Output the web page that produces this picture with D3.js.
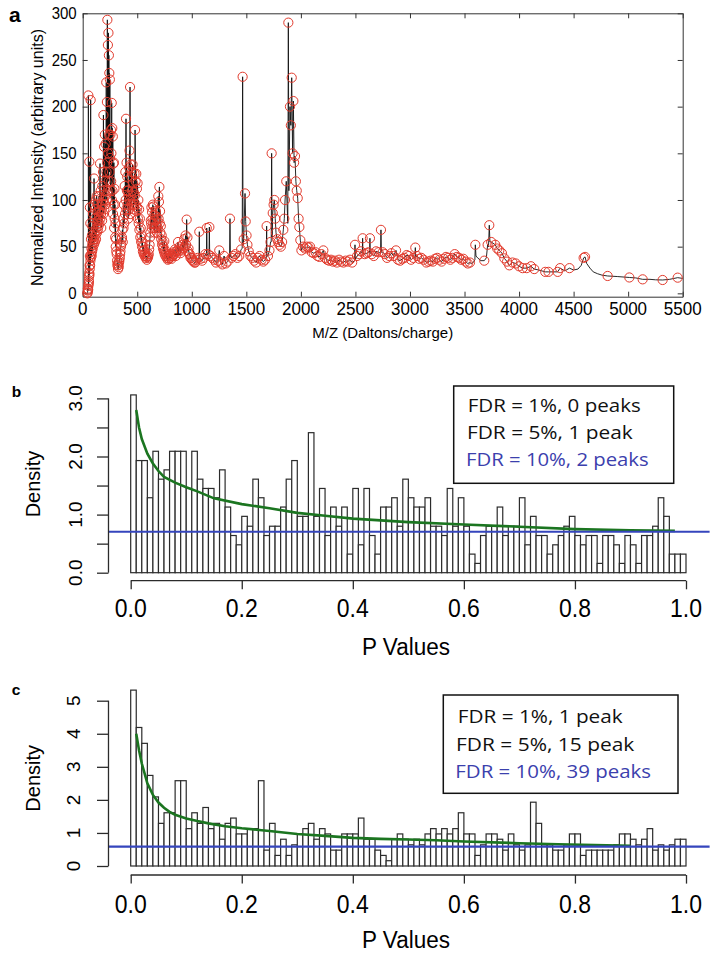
<!DOCTYPE html>
<html><head><meta charset="utf-8">
<script src="https://cdn.jsdelivr.net/npm/d3@7"></script>
<style>body{margin:0;background:#fff}svg{display:block}</style>
</head><body>
<svg id="chart" width="716" height="956"></svg>
<script>
// ---------------- DATA ----------------
// Panel a : mass spectrum
const mzTicks = [0,500,1000,1500,2000,2500,3000,3500,4000,4500,5000,5500];
const intensityTicks = [0,50,100,150,200,250,300];
// detected peaks (red circles): [m/z, intensity]
const peaks = [
[43,0],[48,3],[52,8],[56,14],[60,22],[63,30],[66,40],[52,212],[61,141],[66,92],[73,207],[70,75],[76,58],[80,48],[85,62],[90,72],[95,85],[100,95],[104,123],[110,80],[115,90],[120,100],[128,104],[135,96],[142,88],[150,104],[159,139],[165,110],[172,96],[180,115],[186,130],[190,191],[196,157],[203,170],[210,160],[216,226],[222,205],[226,293],[231,266],[236,279],[240,255],[244,236],[249,229],[254,170],[259,175],[263,150],[266,204],[271,177],[276,168],[281,139],[286,140],[291,112],[296,95],[301,75],[306,58],[312,42],[318,30],[324,26],[330,28],[336,35],[343,42],[350,50],[357,58],[364,68],[371,80],[378,95],[385,115],[391,130],[397,187],[402,140],[408,125],[414,110],[420,105],[425,135],[429,153],[434,221],[439,138],[445,125],[451,130],[457,138],[463,118],[469,108],[475,128],[480,175],[485,120],[491,128],[497,112],[503,118],[510,100],[517,90],[524,80],[532,70],[540,62],[548,55],[556,50],[565,46],[574,43],[583,40],[592,39],[601,40],[609,47],[617,60],[624,78],[630,92],[636,87],[643,95],[650,93],[657,84],[664,78],[671,88],[678,82],[686,76],[693,104],[699,98],[703,114],[709,88],[716,72],[724,62],[732,55],[740,50],[748,56],[756,46],[765,43],[775,40],[785,38],[796,40],[808,42],[820,40],[833,44],[846,47],[860,45],[874,55],[888,50],[902,48],[916,52],[930,58],[943,62],[953,79],[960,60],[970,48],[982,42],[995,38],[1010,35],[1025,33],[1040,36],[1055,38],[1069,66],[1080,37],[1095,35],[1110,38],[1125,42],[1137,70],[1150,42],[1161,71],[1172,40],[1188,38],[1205,36],[1222,33],[1240,35],[1252,46],[1265,33],[1280,31],[1296,40],[1312,32],[1328,34],[1350,80],[1365,38],[1382,40],[1400,42],[1418,38],[1435,40],[1452,47],[1466,232],[1476,58],[1488,107],[1494,77],[1502,62],[1510,52],[1522,45],[1538,40],[1555,38],[1572,35],[1590,33],[1606,38],[1622,40],[1640,36],[1656,34],[1672,36],[1686,72],[1698,40],[1712,46],[1722,55],[1732,150],[1742,86],[1750,95],[1757,100],[1765,80],[1772,65],[1782,58],[1792,55],[1804,52],[1816,50],[1828,55],[1839,68],[1848,80],[1855,100],[1866,120],[1885,290],[1900,200],[1908,180],[1916,231],[1924,150],[1931,206],[1938,140],[1946,147],[1954,120],[1962,110],[1971,102],[1979,80],[1986,71],[1995,57],[2005,46],[2020,50],[2038,48],[2055,50],[2070,49],[2084,50],[2100,44],[2118,43],[2135,44],[2152,40],[2170,39],[2188,42],[2206,46],[2222,38],[2240,36],[2258,35],[2276,36],[2294,34],[2312,35],[2330,33],[2350,36],[2370,34],[2390,33],[2410,35],[2430,34],[2450,36],[2470,33],[2496,52],[2515,40],[2535,42],[2550,45],[2566,59],[2585,42],[2605,43],[2620,44],[2633,59],[2650,42],[2668,40],[2690,45],[2712,44],[2734,68],[2750,44],[2770,42],[2790,38],[2810,40],[2830,43],[2850,40],[2872,46],[2890,36],[2910,35],[2930,37],[2950,38],[2970,41],[2990,40],[3010,36],[3030,38],[3049,49],[3065,40],[3085,37],[3105,38],[3125,36],[3150,33],[3170,34],[3190,35],[3210,34],[3230,37],[3250,38],[3270,36],[3290,34],[3310,37],[3330,39],[3350,38],[3370,36],[3390,38],[3410,42],[3430,39],[3450,38],[3470,36],[3490,37],[3510,34],[3530,32],[3550,33],[3599,52],[3681,35],[3712,52],[3727,73],[3745,55],[3782,52],[3800,48],[3819,46],[3843,43],[3865,37.5],[3890,34],[3911,30],[3940,33],[3970,32],[4000,29],[4033,27],[4070,27],[4109,29],[4139,26],[4240,23],[4270,23],[4354,23],[4376,27],[4462,27],[4592,38],[4605,39],[4812,18.6],[5011,17],[5133,15],[5316,14.3],[5454,16.8],
// dense low-mass cluster
[45,1],[47,5],[50,4],[54,10],[57,12],[58,18],[62,20],[64,26],[68,30],[71,35],[74,38],[78,42],[82,40],[86,45],[88,52],[92,48],[96,55],[98,60],[102,52],[106,58],[108,65],[112,55],[117,62],[122,58],[125,70],[130,65],[133,75],[138,68],[140,78],[145,72],[148,82],[153,75],[156,88],[162,80],[168,85],[170,70],[175,90],[178,78],[183,95],[188,85],[193,100],[198,90],[200,110],[205,95],[208,120],[213,105],[218,130],[220,100],[224,140],[228,110],[233,150],[238,120],[242,170],[246,130],[251,145],[256,110],[261,120],[268,100],[273,110],[278,85],[283,95],[288,70],[293,80],[298,60],[303,50],[308,45],[315,35],[321,32],[327,30],[333,33],[340,38],[346,45],[353,52],[360,60],[367,55],[374,70],[381,75],[388,85],[394,100],[400,90],[405,110],[411,95],[417,80],[423,90],[431,100],[437,85],[442,105],[448,95],[454,110],[460,100],[466,90],[472,95],[478,105],[488,95],[494,88],[500,92],[506,80],[513,75],[520,68],[528,60],[536,55],[544,50],[552,45],[560,42],[569,40],[578,38],[588,36],[597,38],[605,42],[613,52],[620,65],[627,75],[633,70],[640,80],[646,75],[653,70],[660,65],[668,70],[675,72],[682,65],[689,70],[696,80],[706,75],[712,65],[720,58],[728,52],[736,48],[744,45],[752,42],[760,40],[770,38],[780,36],[790,37],[802,38],[814,37],[826,40],[840,42],[853,40],[867,46],[881,45],[895,43],[909,46],[923,48],[936,50],[948,52],[965,45],[976,42],[988,38],[1002,36],[1017,34],[1032,33]
];
// spectrum points between peaks (line only): [m/z, intensity]
const spectrumBase = [
[950,55],[956,56],[1066,37],[1072,37],[1134,40],[1140,41],[1158,42],[1164,42],[1346,38],[1354,40],[1462,48],[1470,52],[1683,38],[1689,40],[1728,55],[1736,60],[1880,75],[1890,110],[2492,35],[2500,36],[2563,43],[2569,43],[2630,44],[2636,43],[2730,43],[2738,44],[3046,38],[3052,39],
[3560,32],[3580,33],[3595,36],[3605,40],[3620,38],[3650,35],[3700,38],[3720,50],[3733,55],[4180,25],[4210,24],[4310,23],[4420,24],[4500,25],[4540,26],[4570,30],[4620,32],[4650,27],[4680,23],[4720,21],[4760,19.5],[4900,18],[5070,16.5],[5200,15],[5250,14.5],[5380,15],[5500,16]
];

// Panel b : p-value histogram (density per 0.01 bin)
const pTicks = [0,0.2,0.4,0.6,0.8,1.0];
const densityB = [3.06,1.93,1.93,1.29,2.09,1.61,1.77,2.09,2.09,2.09,1.45,2.09,1.61,1.45,1.45,1.29,1.77,1.13,0.64,0.48,
0.97,0.80,1.61,1.29,0.64,0.80,0.80,1.13,1.61,1.93,0.97,0.97,2.41,0.97,1.45,0.64,1.13,0.80,1.13,0.32,
1.45,0.48,1.45,0.64,0.32,1.13,1.13,1.29,0.80,1.61,1.29,1.13,1.13,1.29,0.80,0.80,0.64,1.45,0.80,1.29,
0.80,0.32,0.16,0.64,0.80,0.80,1.13,0.64,0.80,0.80,1.29,0.48,0.97,0.64,0.64,0.32,0.48,0.64,0.80,0.97,
0.64,0.48,0.64,0.64,0.16,0.64,0.64,0.48,0.16,0.64,0.48,0.16,0.64,0.64,0.80,1.29,0.97,0.32,0.32,0.32];
const densityTicksB = [0,0.5,1,1.5,2,2.5,3];
const densityLabelsB = [0,1,2,3];
const fitPB = [0.01,0.015,0.02,0.03,0.04,0.05,0.06,0.08,0.1,0.12,0.15,0.2,0.25,0.3,0.35,0.4,0.5,0.6,0.7,0.8,0.9,0.98];
const fitDB = [2.8,2.5,2.3,2.05,1.88,1.75,1.65,1.55,1.47,1.4,1.28,1.18,1.11,1.03,0.98,0.93,0.87,0.83,0.79,0.75,0.73,0.72];
const fdrLevelB = 0.705;
const legendB = ["FDR = 1%, 0 peaks","FDR = 5%, 1 peak","FDR = 10%, 2 peaks"];

// Panel c
const densityC = [5.32,4.19,3.71,2.74,2.09,1.29,1.61,1.61,2.58,2.58,1.13,1.61,1.29,1.77,1.13,1.29,0.81,1.29,1.45,0.97,
0.97,1.13,1.13,2.58,0.48,1.29,0.32,0.81,0.32,0.64,0.97,1.13,1.29,0.81,1.13,0.97,0.48,0.48,0.97,0.97,
0.97,1.45,0.81,0.81,0.48,0.32,0.16,0.81,0.97,0.81,0.64,0.81,0.64,0.97,1.13,0.97,1.13,0.97,1.13,1.61,
0.97,0.97,0.32,0.64,0.97,0.97,0.81,0.48,0.97,0.64,0.48,0.64,1.93,1.29,0.64,0.64,0.48,0.48,0.64,0.97,
0.97,0.32,0.48,0.48,0.48,0.48,0.48,0.64,0.97,0.97,0.81,0.64,0.81,1.13,0.48,0.64,0.48,0.64,0.81,0.81];
const densityTicksC = [0,1,2,3,4,5];
const fitPC = [0.01,0.015,0.02,0.025,0.03,0.04,0.05,0.06,0.07,0.08,0.1,0.12,0.14,0.17,0.2,0.25,0.3,0.35,0.4,0.45,0.5,0.55,0.6,0.7,0.77,0.9];
const fitDC = [4.0,3.5,3.1,2.8,2.5,2.15,1.92,1.76,1.64,1.55,1.44,1.36,1.29,1.2,1.14,1.06,0.97,0.91,0.85,0.82,0.8,0.78,0.74,0.69,0.66,0.61];
const fdrLevelC = 0.585;
const legendC = ["FDR = 1%, 1 peak","FDR = 5%, 15 peak","FDR = 10%, 39 peaks"];

// ---------------- DRAW ----------------
const SANS = "'Liberation Sans', Arial, Helvetica, sans-serif";
const LEG = "'Open Sans', 'Noto Sans', sans-serif";
const svg = d3.select('#chart');
svg.append('rect').attr('width',716).attr('height',956).attr('fill','#fff');

function T(g, x, y, s, o) {
  let tr = `translate(${x},${y})`;
  if (o.rot) tr += ` rotate(${o.rot})`;
  if (o.sy) tr += ` scale(1,${o.sy})`;
  const t = g.append('g').attr('transform', tr).append('text').text(s)
    .attr('font-family', o.font || SANS).attr('font-size', o.size)
    .attr('text-anchor', o.anchor || 'start')
    .attr('font-weight', o.weight || 'normal')
    .attr('fill', o.fill || '#000');
  if (o.len) t.attr('textLength', o.len).attr('lengthAdjust', 'spacingAndGlyphs');
  return t;
}

// ===== Panel a =====
(function(){
  const L = 82.7, R = 682.7, Tp = 13.3, B = 296.7;
  const x = d3.scaleLinear([0,5500],[L,R]);
  const y = d3.scaleLinear([-3.6,300],[B,Tp]);
  const g = svg.append('g');
  const axCol = '#333';
  const addAx = (axis, tr) => {
    const a = g.append('g').attr('transform', tr).call(axis);
    a.selectAll('path,line').attr('stroke', axCol).attr('stroke-width', 1);
    a.selectAll('text').remove();
  };
  addAx(d3.axisBottom(x).tickValues(mzTicks).tickSize(-5).tickSizeOuter(0), `translate(0,${B})`);
  addAx(d3.axisTop(x).tickValues(mzTicks).tickSize(-5).tickSizeOuter(0), `translate(0,${Tp})`);
  addAx(d3.axisLeft(y).tickValues(intensityTicks).tickSize(-5).tickSizeOuter(0), `translate(${L},0)`);
  addAx(d3.axisRight(y).tickValues(intensityTicks).tickSize(-5).tickSizeOuter(0), `translate(${R},0)`);

  const pts = peaks.concat(spectrumBase).slice().sort((a,b)=>a[0]-b[0]);
  g.append('path').datum(pts)
    .attr('d', d3.line().x(d=>x(d[0])).y(d=>y(d[1])))
    .attr('fill','none').attr('stroke','#111').attr('stroke-width',0.9);
  g.selectAll('circle.pk').data(peaks).join('circle').attr('class','pk')
    .attr('cx', d=>x(d[0])).attr('cy', d=>y(d[1])).attr('r', 4.6)
    .attr('fill','none').attr('stroke','#e23a2c').attr('stroke-width',1);

  intensityTicks.forEach(v => T(g, L-6, y(v)+5.8, String(v), {size:15, anchor:'end', sy:1.08}));
  mzTicks.forEach(v => T(g, x(v), 315, String(v), {size:17, anchor:'middle', sy:1.09}));
  T(g, (L+R)/2, 337.5, 'M/Z (Daltons/charge)', {size:15, anchor:'middle'});
  T(g, 43.2, 157.5, 'Normalized Intensity (arbitrary units)', {size:16, anchor:'middle', rot:-90});
  T(g, 9, 21.5, 'a', {size:21, weight:'bold'});
})();

// ===== Histogram panels =====
function histPanel(o) {
  const g = svg.append('g');
  const x = d3.scaleLinear([0,1],[130.7,686]);
  const y = d3.scaleLinear([0,o.yMax],[o.y0,o.yTop]);
  const bw = 0.01;
  g.selectAll('rect.bar').data(o.dens).join('rect').attr('class','bar')
    .attr('x', (d,i)=>x(i*bw)).attr('width', x(bw)-x(0))
    .attr('y', d=>y(d)).attr('height', d=>y(0)-y(d))
    .attr('fill','#fff').attr('stroke','#2b2b2b').attr('stroke-width',1.2);
  g.append('path').datum(o.fitP.map((p,i)=>[p,o.fitD[i]]))
    .attr('d', d3.line().x(d=>x(d[0])).y(d=>y(d[1])))
    .attr('fill','none').attr('stroke','#1b7520').attr('stroke-width',2.6);
  g.append('line').attr('x1', x(-0.04)).attr('x2', x(1.0425))
    .attr('y1', y(o.fdr)).attr('y2', y(o.fdr))
    .attr('stroke','#3545bd').attr('stroke-width',2.2);
  const ya = g.append('g').attr('transform',`translate(${x(-0.04)},0)`)
    .call(d3.axisLeft(y).tickValues(o.yTicks).tickSize(11.5).tickSizeOuter(0));
  ya.selectAll('path,line').attr('stroke','#2b2b2b').attr('stroke-width',1.3);
  ya.selectAll('text').remove();
  ya.select('path').attr('d', `M0,${y(o.yTicks[0])}V${y(o.yTicks[o.yTicks.length-1])}`);
  o.yLabels.forEach(v => T(g, o.yLabX, y(v), o.fmt(v), {size:19, anchor:'middle', rot:-90}));
  const xa = g.append('g').attr('transform',`translate(0,${o.xAxY})`)
    .call(d3.axisBottom(x).tickValues(pTicks).tickSize(8.6).tickSizeOuter(0));
  xa.selectAll('path,line').attr('stroke','#2b2b2b').attr('stroke-width',1.3);
  xa.selectAll('text').remove();
  xa.select('path').attr('d', `M${x(0)},0H${x(1)}`);
  pTicks.forEach(v => T(g, x(v), o.xLabY, v.toFixed(1), {size:23, anchor:'middle', sy:1.1}));
  T(g, 406, o.xTitleY, 'P Values', {size:22.5, anchor:'middle', sy:1.1});
  T(g, 39.5, o.yTitleY, 'Density', {size:20, anchor:'middle', rot:-90});
  T(g, 11.7, o.letterY, o.letter, {size:15.5, weight:'bold'});
  const lb = o.legBox;
  g.append('rect').attr('x',lb[0]).attr('y',lb[1]).attr('width',lb[2]).attr('height',lb[3])
    .attr('fill','#fff').attr('stroke','#111').attr('stroke-width',1.5);
  o.legend.forEach((s,i) => T(g, o.legX[i], o.legY[i], s,
    {size:18.5, font:LEG, len:o.legW[i], fill: i===2 ? '#3b40ad' : '#111'}));
}

histPanel({
  dens: densityB, yMax: 3, y0: 572.7, yTop: 398.4, yTicks: densityTicksB, yLabels: densityLabelsB,
  fmt: v => v.toFixed(1), yLabX: 81.5, xAxY: 580.7, xLabY: 616.7, xTitleY: 655, yTitleY: 484,
  letter: 'b', letterY: 396.7, fitP: fitPB, fitD: fitDB, fdr: fdrLevelB,
  legBox: [453.7, 386, 220, 97.3], legend: legendB,
  legX: [467.7, 467, 466], legY: [411.7, 439.3, 466], legW: [173, 165.7, 182.7]
});
histPanel({
  dens: densityC, yMax: 5, y0: 866, yTop: 700.7, yTicks: densityTicksC, yLabels: densityTicksC,
  fmt: v => String(v), yLabX: 80, xAxY: 875, xLabY: 913.3, xTitleY: 948.3, yTitleY: 778.3,
  letter: 'c', letterY: 695, fitP: fitPC, fitD: fitDC, fdr: fdrLevelC,
  legBox: [443.3, 695, 234.7, 98.3], legend: legendC,
  legX: [457.7, 456, 455.3], legY: [723.3, 750.7, 777.7], legW: [165, 178.3, 195.7]
});
</script>
</body></html>
